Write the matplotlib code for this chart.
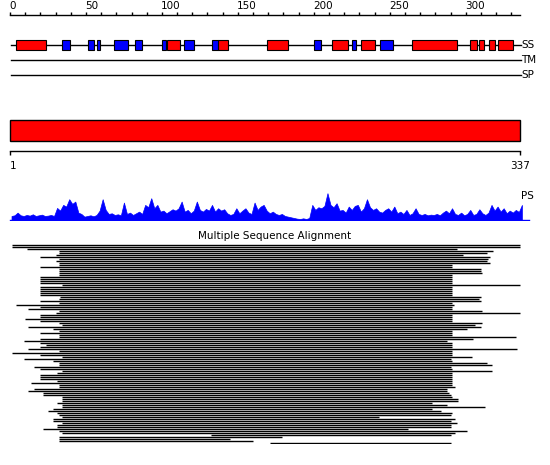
import matplotlib
matplotlib.use("Agg")
import matplotlib.pyplot as plt
import numpy as np
from matplotlib.patches import Rectangle

# sequence info
SEQ_LEN = 337
RULER_TICKS = list(range(0, 331, 10))
RULER_LABELS = [0, 50, 100, 150, 200, 250, 300]
TRACKS = ["SS", "TM", "SP"]

# secondary structure segments (start, end) in residues
HELIX = [(4, 24), (103.5, 111.7), (137, 143.3), (169.4, 183.2), (212, 222.3),
         (231.3, 240), (264.8, 294), (303, 307.2), (309, 311.8), (315.5, 319),
         (321, 331)]
STRAND = [(34, 39.3), (51.5, 55), (57, 59.5), (68.7, 78), (82, 86.7),
          (100, 102.5), (114.7, 121), (133, 137), (200.3, 204.5),
          (225.3, 227.6), (243.8, 252)]

# PS profile, one value every second residue (1, 3, 5 ... 337)
PS = [12, 14, 22, 14, 12, 15, 13, 17, 12, 14, 16, 12, 13, 15, 12, 36, 28, 45,
      40, 62, 48, 55, 22, 18, 10, 12, 14, 11, 15, 28, 62, 30, 18, 20, 15, 17,
      14, 52, 18, 22, 15, 20, 25, 18, 45, 38, 65, 35, 45, 25, 28, 20, 26, 32,
      28, 35, 55, 25, 30, 20, 28, 55, 30, 25, 33, 28, 45, 25, 35, 28, 32, 20,
      15, 18, 35, 20, 28, 35, 22, 18, 52, 30, 40, 45, 28, 20, 25, 18, 15, 18,
      12, 10, 8, 6, 4, 3, 5, 3, 6, 45, 30, 38, 35, 42, 80, 45, 38, 50, 28, 30,
      22, 40, 30, 42, 45, 25, 35, 62, 38, 30, 35, 25, 22, 30, 35, 25, 40, 20,
      25, 18, 30, 15, 20, 35, 18, 15, 18, 14, 16, 15, 18, 14, 22, 28, 20, 35,
      18, 15, 22, 14, 18, 30, 15, 18, 32, 20, 15, 22, 45, 28, 40, 25, 35, 20,
      28, 22, 30, 24, 45]

# alignment hits: first and last aligned residue
MSA_START = [1, 1, 11, 32, 32, 30, 20, 32, 30, 32, 32, 20, 32, 32, 32, 32, 20,
             20, 20, 20, 34, 20, 20, 20, 20, 20, 33, 32, 20, 32, 4, 20, 12, 32,
             30, 20, 20, 10, 20, 32, 34, 12, 28, 32, 20, 32, 32, 20, 9, 20, 24,
             20, 12, 32, 1, 20, 34, 9, 28, 32, 32, 16, 20, 34, 31, 20, 20, 20,
             31, 14, 32, 32, 16, 12, 22, 22, 34, 34, 34, 31, 34, 34, 28, 25,
             31, 32, 34, 28, 28, 34, 31, 31, 22, 32, 34, 132, 32, 32, 32, 171]
MSA_END = [336, 336, 294, 318, 314, 298, 316, 315, 314, 316, 291, 291, 310,
           310, 311, 291, 291, 291, 291, 291, 336, 291, 291, 291, 291, 291,
           310, 309, 310, 291, 292, 291, 291, 311, 336, 291, 291, 291, 291,
           311, 306, 310, 301, 291, 291, 291, 333, 305, 288, 291, 291, 291,
           334, 291, 291, 291, 304, 290, 291, 314, 317, 290, 291, 317, 291,
           291, 291, 291, 291, 291, 291, 293, 288, 288, 289, 290, 291, 295,
           295, 278, 288, 313, 278, 284, 291, 290, 243, 293, 290, 294, 290,
           290, 262, 301, 293, 290, 179, 145, 160, 290]

W, H = 550, 465
X0, PX = 10, 1.519          # pixel of residue 0, pixels per residue
XLIM = (-X0 / PX, (W - X0) / PX)
FS = 7.5

fig = plt.figure(figsize=(5.5, 4.65), dpi=100)
ax = fig.add_axes([0, 0, 1, 1])
ax.set_xlim(XLIM)
ax.set_ylim(H, 0)
ax.axis("off")

# ruler
ax.plot([0, SEQ_LEN - 1], [15, 15], color="black", lw=1)
ax.vlines(RULER_TICKS, 12, 15, color="black", lw=1)
for t in RULER_LABELS:
    ax.text(t - 0.6, 6, str(t), fontsize=FS, ha="left", va="center")

# SS / TM / SP tracks
for k, name in enumerate(TRACKS):
    y = 45 + 15 * k
    ax.plot([0.6, SEQ_LEN - 0.5], [y, y], color="black", lw=1, zorder=1)
    ax.text(SEQ_LEN - 0.3, y, name, fontsize=FS, ha="left", va="center")
for s, e in HELIX:
    ax.add_patch(Rectangle((s, 40), e - s, 10, facecolor="#ff0000",
                           edgecolor="black", lw=0.8, zorder=2))
for s, e in STRAND:
    ax.add_patch(Rectangle((s, 40), e - s, 10, facecolor="#0000ff",
                           edgecolor="black", lw=0.8, zorder=2))

# domain bar and scale
ax.add_patch(Rectangle((0, 120), SEQ_LEN - 1, 20.5, facecolor="#ff0000",
                       edgecolor="black", lw=1))
ax.plot([0, SEQ_LEN - 1], [151, 151], color="black", lw=1)
ax.vlines([0, SEQ_LEN - 1], 151, 155, color="black", lw=1)
ax.text(0, 166, "1", fontsize=FS, ha="left", va="center")
ax.text(SEQ_LEN - 1, 166, str(SEQ_LEN), fontsize=FS, ha="center", va="center")

# PS profile
ax.text(SEQ_LEN - 0.5, 196, "PS", fontsize=FS, ha="left", va="center")
ps_ax = fig.add_axes([0, 1 - 221 / H, 1, 28.5 / H])
ps_ax.set_xlim(XLIM)
ps_ax.set_ylim(-3, 82)
ps_ax.axis("off")
pos = np.arange(1, SEQ_LEN + 1, 2)
ps_ax.fill_between(pos, 0, PS, color="#0000ff", lw=0.5)
ps_ax.plot([0, SEQ_LEN + 5], [0, 0], color="#0000ff", lw=1)

# multiple sequence alignment
ax.text((W / 2 - X0) / PX, 236, "Multiple Sequence Alignment", fontsize=FS,
        ha="center", va="center")
msa_ax = fig.add_axes([0, 1 - 444 / H, 1, 200 / H])
msa_ax.set_xlim(XLIM)
msa_ax.set_ylim(len(MSA_START) - 0.5, -0.5)
msa_ax.axis("off")
rows = np.arange(len(MSA_START))
msa_ax.hlines(rows, MSA_START, MSA_END, color="black", lw=1.0)

fig.savefig("out.png", dpi=100)
